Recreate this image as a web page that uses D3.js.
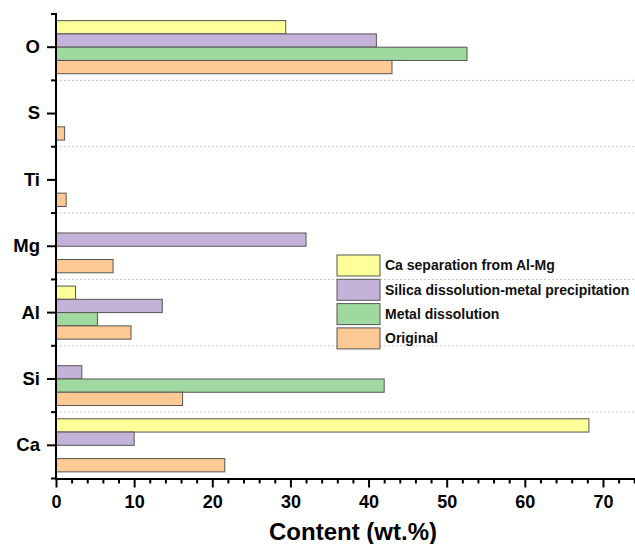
<!DOCTYPE html>
<html>
<head>
<meta charset="utf-8">
<script src="https://cdn.jsdelivr.net/npm/d3@7"></script>
<style>
  html, body { margin: 0; padding: 0; background: #fff; }
  svg { display: block; font-family: "Liberation Sans", Arial, sans-serif; }
</style>
</head>
<body>
<svg id="chart" width="635" height="544"></svg>
<script>
// ---- data ----
const categories = ["O", "S", "Ti", "Mg", "Al", "Si", "Ca"];
const seriesNames = [
  "Ca separation from Al-Mg",
  "Silica dissolution-metal precipitation",
  "Metal dissolution",
  "Original"
];
const caSeparation = [29.4, 0, 0, 0, 2.5, 0, 68.2];
const silicaDissolution = [41.0, 0, 0, 32.0, 13.6, 3.3, 10.0];
const metalDissolution = [52.6, 0, 0, 0, 5.3, 42.0, 0];
const original = [43.0, 1.1, 1.3, 7.3, 9.6, 16.2, 21.6];
const seriesValues = [caSeparation, silicaDissolution, metalDissolution, original];
const seriesColors = ["#ffff99", "#c3b3d9", "#a0d9a0", "#fdc995"];
const majorTicks = [0, 10, 20, 30, 40, 50, 60, 70];
const minorTicks = [2,4,6,8,12,14,16,18,22,24,26,28,32,34,36,38,42,44,46,48,52,54,56,58,62,64,66,68,72,74];
const axisTitle = "Content (wt.%)";

// ---- layout ----
const svg = d3.select("#chart");
const mLeft = 56, mRight = 635, mTop = 14, mBottom = 478.5;

const x = d3.scaleLinear().domain([0, 74.1]).range([mLeft, mRight]);
const y = d3.scaleBand().domain(categories).range([mTop, mBottom])
  .paddingInner(0.2).paddingOuter(0.1);
const y1 = d3.scaleBand().domain(seriesNames).range([0, y.bandwidth()]);

// boundaries between categories
const boundaries = categories.map(c => y(c) - y.step() * 0.1);
boundaries.push(mBottom);

// gridlines (dotted) at inner boundaries
svg.append("g").selectAll("line")
  .data(boundaries.slice(1, -1))
  .join("line")
  .attr("x1", mLeft).attr("x2", mRight)
  .attr("y1", d => d).attr("y2", d => d)
  .attr("stroke", "#c8c8c8").attr("stroke-width", 1)
  .attr("stroke-dasharray", "2,2");

// bars
const barData = [];
seriesNames.forEach((s, si) => {
  categories.forEach((c, ci) => {
    const v = seriesValues[si][ci];
    if (v > 0) barData.push({ s, si, c, v });
  });
});
svg.append("g").selectAll("rect")
  .data(barData)
  .join("rect")
  .attr("x", x(0))
  .attr("y", d => y(d.c) + y1(d.s))
  .attr("width", d => x(d.v) - x(0))
  .attr("height", y1.bandwidth())
  .attr("fill", d => seriesColors[d.si])
  .attr("stroke", "#555")
  .attr("stroke-width", 1);

// y axis
const yAxis = svg.append("g").attr("transform", `translate(${mLeft},0)`)
  .call(d3.axisLeft(y).tickSize(9).tickPadding(7).tickSizeOuter(0));
yAxis.select(".domain").remove();
yAxis.selectAll(".tick line").attr("stroke", "#000").attr("stroke-width", 2);
yAxis.selectAll("text").attr("font-size", "18.5px").attr("font-weight", "bold")
  .attr("fill", "#000");
// y minor ticks at boundaries
svg.append("g").selectAll("line")
  .data([mTop].concat(boundaries.slice(1)))
  .join("line")
  .attr("x1", mLeft - 5).attr("x2", mLeft)
  .attr("y1", d => d).attr("y2", d => d)
  .attr("stroke", "#000").attr("stroke-width", 2);
svg.append("line")
  .attr("x1", mLeft).attr("x2", mLeft)
  .attr("y1", mTop - 1).attr("y2", mBottom + 1)
  .attr("stroke", "#000").attr("stroke-width", 2);

// x axis
const xAxis = svg.append("g").attr("transform", `translate(0,${mBottom})`)
  .call(d3.axisBottom(x).tickValues(majorTicks).tickSize(9).tickPadding(8).tickSizeOuter(0));
xAxis.select(".domain").attr("stroke-width", 2).attr("stroke", "#000");
xAxis.selectAll(".tick line").attr("stroke", "#000").attr("stroke-width", 2);
xAxis.selectAll("text").attr("font-size", "18px").attr("font-weight", "bold")
  .attr("fill", "#000");
const xMinor = svg.append("g").attr("transform", `translate(0,${mBottom})`)
  .call(d3.axisBottom(x).tickValues(minorTicks).tickSize(5).tickFormat(""));
xMinor.select(".domain").remove();
xMinor.selectAll(".tick line").attr("stroke", "#000").attr("stroke-width", 2);

// axis title
svg.append("text")
  .attr("x", 353).attr("y", 540)
  .attr("text-anchor", "middle")
  .attr("font-size", "24px").attr("font-weight", "bold")
  .attr("fill", "#000")
  .text(axisTitle);

// legend
const legend = svg.append("g").attr("transform", "translate(337,255)");
const rowH = 24.3;
seriesNames.forEach((s, i) => {
  const g = legend.append("g").attr("transform", `translate(0,${i * rowH})`);
  g.append("rect").attr("x", 0).attr("y", 0).attr("width", 43).attr("height", 21)
    .attr("fill", seriesColors[i]).attr("stroke", "#555").attr("stroke-width", 1);
  g.append("text").attr("x", 48).attr("y", 10.5).attr("dy", "0.35em")
    .attr("font-size", "14px").attr("font-weight", "bold").attr("fill", "#111")
    .text(s);
});
</script>
</body>
</html>
